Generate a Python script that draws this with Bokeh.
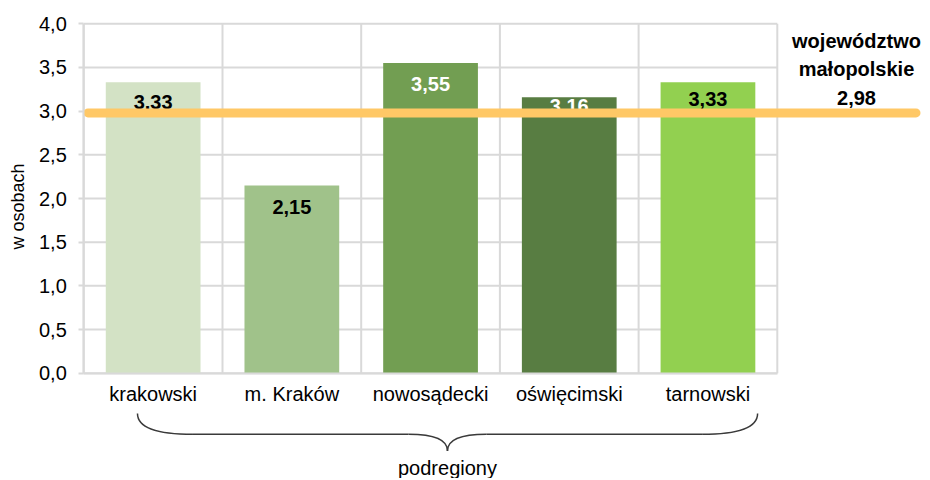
import math
from bokeh.plotting import figure
from bokeh.models import Range1d, FixedTicker
from bokeh.embed import file_html
from bokeh.resources import INLINE
from bokeh.core.properties import value

# ---- data ----
categories = ["krakowski", "m. Kraków", "nowosądecki", "oświęcimski", "tarnowski"]
values = [3.33, 2.15, 3.55, 3.16, 3.33]
value_labels = ["3,33", "2,15", "3,55", "3,16", "3,33"]
region_value = 2.98
region_label = "województwo\nmałopolskie\n2,98"
y_ticks = [0.0, 0.5, 1.0, 1.5, 2.0, 2.5, 3.0, 3.5, 4.0]
y_tick_labels = ["0,0", "0,5", "1,0", "1,5", "2,0", "2,5", "3,0", "3,5", "4,0"]
y_title = "w osobach"
x_title = "podregiony"

# ---- styles ----
bar_colors = ["#d3e2c5", "#a0c28a", "#729e52", "#587d42", "#92d050"]
label_colors = ["#000000", "#000000", "#ffffff", "#ffffff", "#000000"]
label_dy = [20, 22, 21, 9, 17]
GRID = "#d9d9d9"
ORANGE = "#ffc866"
FONT_NAME = "Liberation Sans"
FONT = value(FONT_NAME)
FS = "20px"

n = len(categories)
centers = [i + 0.5 for i in range(n)]
edges = list(range(n + 1))

W, H = 928, 478
UX, UY = 138.7, 87.35          # pixels per data unit
X0_PX, Y0_PX = 83.3, 372.7     # where data (0, 0) sits on the page
x_start = -X0_PX / UX
y_start = -(H - Y0_PX) / UY

p = figure(width=W, height=H,
           x_range=Range1d(x_start, x_start + W / UX),
           y_range=Range1d(y_start, y_start + H / UY),
           toolbar_location=None, output_backend="svg",
           min_border_left=0, min_border_right=0, min_border_top=0, min_border_bottom=0)
p.outline_line_color = None
p.grid.visible = False

# grid lines (limited to category area)
p.segment(x0=[0] * len(y_ticks), x1=[n] * len(y_ticks), y0=y_ticks, y1=y_ticks,
          line_color=GRID, line_width=2)
p.segment(x0=edges, x1=edges, y0=[0] * len(edges), y1=[y_ticks[-1]] * len(edges),
          line_color=GRID, line_width=2)

# bars
p.vbar(x=centers, top=values, width=0.683, bottom=0, fill_color=bar_colors, line_color=None)

# bar labels
p.text(x=centers, y=values, text=value_labels, text_color=label_colors,
       text_font=FONT, text_font_style="bold", text_font_size=FS,
       text_align="center", text_baseline="middle", y_offset=label_dy)

# regional average line + label
p.line(x=[0.03, 6.0], y=[region_value, region_value], line_color=ORANGE,
       line_width=9, line_cap="round")
p.text(x=[5.571], y=[region_value], text=[region_label], text_color="#000000",
       text_font=FONT, text_font_style="bold", text_font_size=FS,
       text_align="center", text_baseline="bottom", y_offset=-4, text_line_height=1.3)

# y axis (fixed at x = 0)
ya = p.yaxis[0]
ya.fixed_location = 0
ya.bounds = (0, y_ticks[-1])
ya.ticker = FixedTicker(ticks=y_ticks)
ya.major_label_overrides = dict(zip(y_ticks, y_tick_labels))
ya.axis_line_color = GRID
ya.axis_line_width = 2
ya.major_tick_line_color = GRID
ya.major_tick_line_width = 2
ya.major_tick_out = 5
ya.major_tick_in = 0
ya.minor_tick_line_color = None
ya.major_label_standoff = 12
ya.major_label_text_font = FONT_NAME
ya.major_label_text_font_size = FS
ya.major_label_text_color = "#000000"

# x axis (fixed at y = 0)
xa = p.xaxis[0]
xa.fixed_location = 0
xa.bounds = (0, n)
xa.ticker = FixedTicker(ticks=centers)
xa.major_label_overrides = dict(zip(centers, categories))
xa.axis_line_color = GRID
xa.axis_line_width = 2
xa.major_tick_line_color = None
xa.major_tick_out = 0
xa.major_tick_in = 0
xa.minor_tick_line_color = None
xa.major_label_standoff = 10
xa.major_label_text_font = FONT_NAME
xa.major_label_text_font_size = FS
xa.major_label_text_color = "#000000"

# y title (rotated)
p.text(x=[-0.471], y=[1.908], text=[y_title], angle=math.pi / 2, text_color="#000000",
       text_font=FONT, text_font_size="18px", text_align="center", text_baseline="middle")

# brace under the categories
L, R, C = 0.387, 4.858, 2.622
T, M, B = -0.461, -0.70, -0.89
a, ac = 0.4, 0.28
BR = "#3a3a3a"
p.quadratic(x0=[L, C - ac, C, R - a], y0=[T, M, B, M],
            x1=[L + a, C, C + ac, R], y1=[M, B, M, T],
            cx=[L, C, C, R], cy=[M, M, M, M], line_color=BR, line_width=1.5)
p.segment(x0=[L + a, C + ac], x1=[C - ac, R - a], y0=[M, M], y1=[M, M],
          line_color=BR, line_width=1.5)
p.text(x=[C], y=[-1.09], text=[x_title], text_color="#000000", text_font=FONT,
       text_font_size=FS, text_align="center", text_baseline="alphabetic")

open("out.html", "w").write(file_html(p, INLINE))
